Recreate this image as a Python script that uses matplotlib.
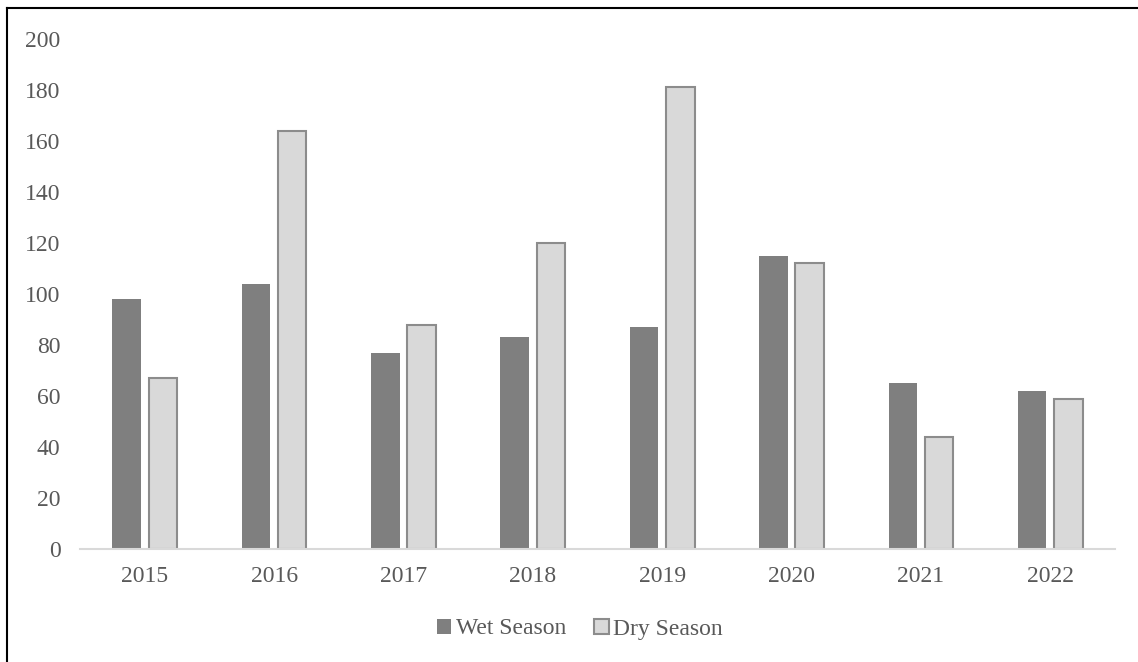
import numpy as np
import matplotlib
matplotlib.use('Agg')
import matplotlib.pyplot as plt
from matplotlib.lines import Line2D

# ── Data ──────────────────────────────────────────────────────────────────────
years = ["2015", "2016", "2017", "2018", "2019", "2020", "2021", "2022"]
wet_season = [98, 104, 77, 83, 87, 115, 65, 62]
dry_season = [67, 164, 88, 120, 181, 112, 44, 59]

# ── Style ─────────────────────────────────────────────────────────────────────
plt.rcParams['font.family'] = ['Liberation Serif', 'DejaVu Serif']
TEXT_COLOR = '#595959'
WET_COLOR = '#7F7F7F'
DRY_COLOR = '#D9D9D9'
DRY_EDGE = '#8C8C8C'
AXIS_COLOR = '#D9D9D9'
FONT_SIZE = 17

fig = plt.figure(figsize=(11.38, 6.62), dpi=100)
ax = fig.add_axes([80 / 1138, 1 - 549 / 662, 1035 / 1138, 510 / 662])

x = np.arange(len(years))
bar_w = 0.22
offset = 0.14

ax.bar(x - offset, wet_season, width=bar_w, color=WET_COLOR, linewidth=0,
       label='Wet Season', zorder=2)
ax.bar(x + offset, dry_season, width=bar_w, color=DRY_COLOR,
       edgecolor=DRY_EDGE, linewidth=1.5, label='Dry Season', zorder=2)

ax.set_xlim(-0.5, len(years) - 0.5)
ax.set_ylim(0, 200)
ax.set_yticks(np.arange(0, 201, 20))
ax.set_xticks(x)
ax.set_xticklabels(years)

for side in ('top', 'right', 'left'):
    ax.spines[side].set_visible(False)
ax.spines['bottom'].set_color(AXIS_COLOR)
ax.spines['bottom'].set_linewidth(1.5)
ax.spines['bottom'].set_zorder(3)

ax.tick_params(axis='both', length=0, labelsize=FONT_SIZE, colors=TEXT_COLOR)
ax.tick_params(axis='y', pad=14)
ax.tick_params(axis='x', pad=12)

# legend below the axis
handles = [
    plt.Rectangle((0, 0), 1, 1, facecolor=WET_COLOR, edgecolor='none'),
    plt.Rectangle((0, 0), 1, 1, facecolor=DRY_COLOR, edgecolor=DRY_EDGE, linewidth=1.5),
]
leg = fig.legend(handles, ['Wet Season', 'Dry Season'], loc='center',
                 bbox_to_anchor=(580 / 1138, 1 - 629 / 662), ncol=2,
                 frameon=False, fontsize=FONT_SIZE, handlelength=0.6,
                 handleheight=0.6, handletextpad=0.2, columnspacing=1.2)
for t in leg.get_texts():
    t.set_color(TEXT_COLOR)

# chart frame edges (top and left)
fig.add_artist(Line2D([6.5 / 1138, 6.5 / 1138], [0, 1 - 8 / 662],
                      transform=fig.transFigure, color='black', linewidth=1.5))
fig.add_artist(Line2D([6.5 / 1138, 1], [1 - 8 / 662, 1 - 8 / 662],
                      transform=fig.transFigure, color='black', linewidth=1.5))

fig.savefig('out.png', dpi=100)
